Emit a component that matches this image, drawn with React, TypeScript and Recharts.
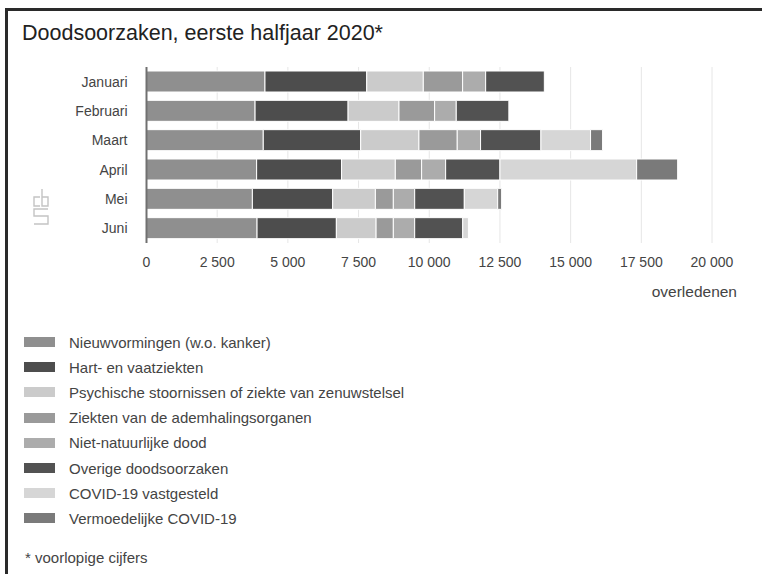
import React from "react";
import { BarChart, Bar, XAxis, YAxis, CartesianGrid } from "recharts";

const months = ["Januari", "Februari", "Maart", "April", "Mei", "Juni"];
const nieuwvormingen = [4190, 3840, 4130, 3895, 3745, 3910];
const hartVaat = [3600, 3290, 3445, 3005, 2840, 2805];
const psychisch = [2000, 1800, 2060, 1900, 1510, 1405];
const ademhaling = [1390, 1260, 1355, 930, 635, 610];
const nietNatuurlijk = [815, 765, 825, 850, 755, 755];
const overige = [2075, 1860, 2135, 1920, 1755, 1700];
const covidVastgesteld = [0, 0, 1755, 4835, 1180, 200];
const covidVermoed = [0, 0, 425, 1450, 140, 0];
const xTicks = [0, 2500, 5000, 7500, 10000, 12500, 15000, 17500, 20000];

const seriesNames = [
  "Nieuwvormingen (w.o. kanker)",
  "Hart- en vaatziekten",
  "Psychische stoornissen of ziekte van zenuwstelsel",
  "Ziekten van de ademhalingsorganen",
  "Niet-natuurlijke dood",
  "Overige doodsoorzaken",
  "COVID-19 vastgesteld",
  "Vermoedelijke COVID-19",
];
const seriesKeys = ["s0", "s1", "s2", "s3", "s4", "s5", "s6", "s7"];
const seriesColors = ["#8f8f8f", "#4d4d4d", "#cbcbcb", "#9a9a9a", "#acacac", "#525252", "#d6d6d6", "#7a7a7a"];
const seriesValues = [
  nieuwvormingen,
  hartVaat,
  psychisch,
  ademhaling,
  nietNatuurlijk,
  overige,
  covidVastgesteld,
  covidVermoed,
];

const data = months.map((m, i) => {
  const row: Record<string, any> = { month: m };
  seriesKeys.forEach((k, j) => {
    row[k] = seriesValues[j][i];
  });
  return row;
});

const FONT = "'Liberation Sans', Arial, sans-serif";
const fmt = (v: number) => String(v).replace(/\B(?=(\d{3})+(?!\d))/g, " ");

function Logo() {
  return (
    <svg width={18} height={40} style={{ position: "absolute", left: 32, top: 187 }}>
      <g fill="none" stroke="#c4c4c4" strokeWidth={1.4}>
        <path d="M8 10 H2 V19 H8" />
        <path d="M10 2 V19 H16 V10 H10" />
        <path d="M16 22 H2 V29 H16 V37 H2" />
      </g>
    </svg>
  );
}

export default function App() {
  return (
    <div
      style={{
        position: "absolute",
        left: 0,
        top: 0,
        width: 762,
        height: 574,
        background: "#fff",
        fontFamily: FONT,
        color: "#333",
        overflow: "hidden",
      }}
    >
      <div
        style={{
          position: "absolute",
          left: 5,
          top: 8,
          width: 800,
          height: 600,
          borderTop: "3px solid #2a2a2a",
          borderLeft: "3px solid #2a2a2a",
        }}
      />
      <div
        style={{
          position: "absolute",
          left: 22,
          top: 20,
          fontSize: 21.5,
          lineHeight: "26px",
          color: "#222",
          whiteSpace: "nowrap",
        }}
      >
        Doodsoorzaken, eerste halfjaar 2020*
      </div>
      <Logo />
      <div style={{ position: "absolute", left: 0, top: 0 }}>
        <BarChart
          width={762}
          height={300}
          data={data}
          layout="vertical"
          margin={{ top: 67, right: 50, left: 0, bottom: 27 }}
          barSize={21}
        >
          <CartesianGrid horizontal={false} vertical={true} stroke="#e6e6e6" />
          <XAxis
            type="number"
            domain={[0, 20000]}
            ticks={xTicks}
            tickFormatter={fmt}
            axisLine={false}
            tickLine={false}
            tickSize={0}
            tickMargin={14}
            height={30}
            tick={{ fill: "#444", fontSize: 14, fontFamily: FONT }}
            interval={0}
          />
          <YAxis
            type="category"
            dataKey="month"
            width={146.5}
            axisLine={{ stroke: "#707070", strokeWidth: 2 }}
            tickLine={false}
            tickSize={0}
            tickMargin={19}
            tick={{ fill: "#444", fontSize: 14, fontFamily: FONT }}
          />
          {seriesKeys.map((k, j) => (
            <Bar
              key={k}
              dataKey={k}
              name={seriesNames[j]}
              stackId="a"
              fill={seriesColors[j]}
              stroke="#fff"
              strokeWidth={1}
              isAnimationActive={false}
            />
          ))}
        </BarChart>
      </div>
      <div
        style={{
          position: "absolute",
          right: 25,
          top: 283,
          fontSize: 15.5,
          lineHeight: "18px",
          color: "#444",
        }}
      >
        overledenen
      </div>
      {seriesNames.map((n, i) => (
        <div
          key={n}
          style={{
            position: "absolute",
            left: 24,
            top: 342 + 25.2 * i - 9,
            height: 18,
            display: "flex",
            alignItems: "center",
            whiteSpace: "nowrap",
          }}
        >
          <div style={{ width: 31, height: 10, background: seriesColors[i], marginRight: 14 }} />
          <span style={{ fontSize: 15, color: "#444" }}>{n}</span>
        </div>
      ))}
      <div
        style={{
          position: "absolute",
          left: 25,
          top: 549,
          fontSize: 15,
          lineHeight: "18px",
          color: "#444",
        }}
      >
        * voorlopige cijfers
      </div>
    </div>
  );
}
